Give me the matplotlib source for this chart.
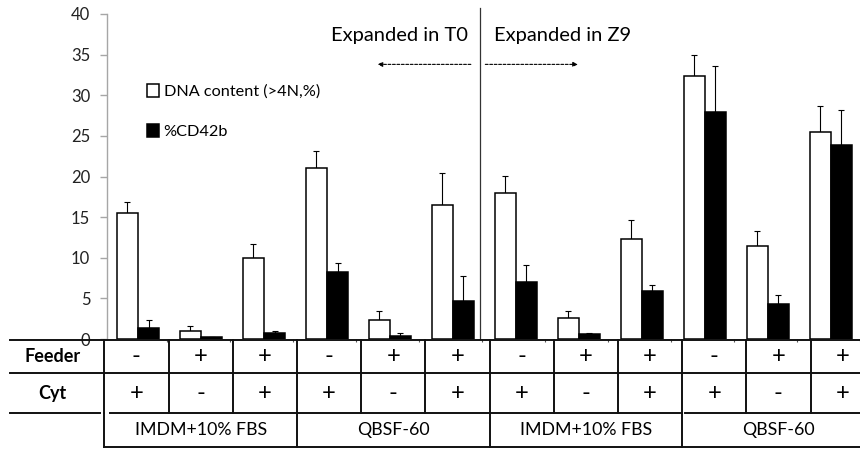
import numpy as np
import matplotlib
matplotlib.use('Agg')
import matplotlib.pyplot as plt

plt.rcParams['font.family'] = ['Lato', 'DejaVu Sans']

# значения
dna = [15.5, 1.0, 10.0, 21.0, 2.4, 16.5, 18.0, 2.6, 12.3, 32.4, 11.4, 25.5]
dna_err = [1.4, 0.6, 1.7, 2.1, 1.1, 3.9, 2.1, 0.9, 2.3, 2.6, 1.9, 3.2]
cd42b = [1.3, 0.2, 0.7, 8.3, 0.4, 4.7, 7.0, 0.6, 5.9, 27.9, 4.3, 23.9]
cd42b_err = [1.1, 0.1, 0.3, 1.0, 0.4, 3.0, 2.1, 0.2, 0.7, 5.7, 1.1, 4.3]
feeder = ['-', '+', '+', '-', '+', '+', '-', '+', '+', '-', '+', '+']
cyt = ['+', '-', '+', '+', '-', '+', '+', '-', '+', '+', '-', '+']
media = ['IMDM+10% FBS', 'QBSF-60', 'IMDM+10% FBS', 'QBSF-60']
yticks = [0, 5, 10, 15, 20, 25, 30, 35, 40]

W, H = 860, 449
col0 = 104.3   # левая граница первой колонки, px
colw = 64.2    # ширина колонки, px
n = len(dna)

fig = plt.figure(figsize=(W / 100, H / 100), dpi=100)

# основная область с барами
y0, y1 = 339, 14
ax = fig.add_axes([107 / W, (H - y0) / H, (W - 107) / W, (y0 - y1) / H])
ax.set_xlim((107 - col0) / colw, (W - col0) / colw)
ax.set_ylim(0, 40)

x = np.arange(n) + 0.535
bw = 0.335
ax.bar(x - bw / 2, dna, bw, color='white', edgecolor='black', linewidth=1.1,
       label='DNA content (>4N,%)', zorder=2)
ax.bar(x + bw / 2, cd42b, bw, color='black', edgecolor='black', linewidth=1.1,
       label='%CD42b', zorder=2)
ax.errorbar(x - bw / 2, dna, yerr=[np.zeros(n), dna_err], fmt='none',
            ecolor='black', elinewidth=0.8, capsize=2.2, capthick=0.8, zorder=1)
ax.errorbar(x + bw / 2, cd42b, yerr=[np.zeros(n), cd42b_err], fmt='none',
            ecolor='black', elinewidth=0.8, capsize=2.2, capthick=0.8, zorder=1)

for s in ['top', 'right', 'bottom']:
    ax.spines[s].set_visible(False)
ax.spines['left'].set_color('#a6a6a6')
ax.spines['left'].set_linewidth(1.0)
ax.set_yticks(yticks)
ax.tick_params(axis='y', colors='#a6a6a6', length=5, width=1.0, pad=7,
               labelcolor='#222222', labelsize=12)
ax.set_xticks(np.arange(1, n + 1))
ax.tick_params(axis='x', length=2, colors='#555555', labelbottom=False)

ax.legend(loc='upper left', bbox_to_anchor=(0.044, 0.806), frameon=False,
          fontsize=11.7, handlelength=0.75, handleheight=0.85, handletextpad=0.3,
          labelspacing=1.56, borderaxespad=0)

# подписи сверху и стрелки
divx = 5.96
ax.plot([divx, divx], [0, 40.7], color='#333333', lw=0.9, clip_on=False)
ax.text(4.69, 37.4, 'Expanded in T0', ha='center', va='center', fontsize=14.5)
ax.text(7.27, 37.4, 'Expanded in Z9', ha='center', va='center', fontsize=14.5)
ax.annotate('', xy=(4.34, 33.8), xytext=(5.82, 33.8),
            arrowprops=dict(arrowstyle='-|>', linestyle=(0, (2.5, 1.5)), lw=0.8,
                            color='black', mutation_scale=7, shrinkA=0, shrinkB=0))
ax.annotate('', xy=(7.52, 33.8), xytext=(6.05, 33.8),
            arrowprops=dict(arrowstyle='-|>', linestyle=(0, (2.5, 1.5)), lw=0.8,
                            color='black', mutation_scale=7, shrinkA=0, shrinkB=0))

# таблица условий под графиком, координаты в пикселях снизу
tb = fig.add_axes([0, 0, 1, (H - 339) / H])
tb.set_xlim(0, W)
tb.set_ylim(0, H - 339)
tb.axis('off')
r_top, r_mid, r_cyt, r_bot = H - 340, H - 373, H - 413, H - 447
lc = '#111111'
lw = 1.4
tb.plot([10, W], [r_top, r_top], color=lc, lw=lw)
tb.plot([10, W], [r_mid, r_mid], color=lc, lw=lw)
tb.plot([10, 100], [r_cyt, r_cyt], color=lc, lw=lw)
tb.plot([110, col0 + 9 * colw - 2], [r_cyt, r_cyt], color=lc, lw=lw)
tb.plot([col0 + 9 * colw + 3, W], [r_cyt, r_cyt], color=lc, lw=lw)
tb.plot([col0, W], [r_bot, r_bot], color=lc, lw=lw)
for k in range(n):
    xb = col0 + k * colw
    tb.plot([xb, xb], [r_cyt, r_top], color=lc, lw=lw)
for k in range(0, n, 3):
    xb = col0 + k * colw
    tb.plot([xb, xb], [r_bot, r_cyt], color=lc, lw=lw)

tb.text(col0 / 2, (r_top + r_mid) / 2, 'Feeder', ha='center', va='center',
        fontsize=13, fontweight='bold')
tb.text(col0 / 2, (r_mid + r_cyt) / 2, 'Cyt', ha='center', va='center',
        fontsize=13, fontweight='bold')
for k in range(n):
    xc = col0 + (k + 0.5) * colw
    tb.text(xc, (r_top + r_mid) / 2, feeder[k], ha='center', va='center', fontsize=17)
    tb.text(xc, (r_mid + r_cyt) / 2, cyt[k], ha='center', va='center', fontsize=17)
for g, name in enumerate(media):
    xc = col0 + (g * 3 + 1.5) * colw
    tb.text(xc, (r_cyt + r_bot) / 2, name, ha='center', va='center', fontsize=12.8)

fig.savefig('out.png', dpi=100)
